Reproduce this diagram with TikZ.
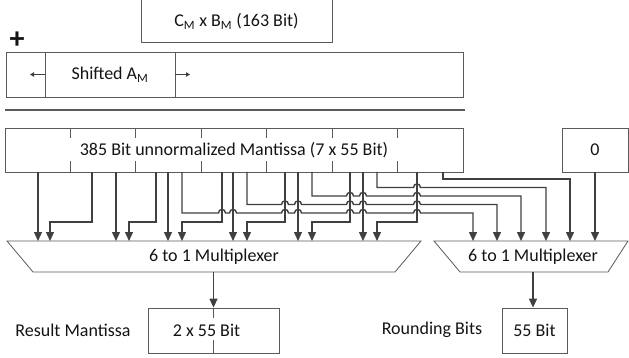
\documentclass[tikz,border=0pt]{standalone}
\usepackage{fontspec}
\setmainfont{Carlito}
\usetikzlibrary{arrows.meta}
\definecolor{boxc}{RGB}{90,90,90}
\definecolor{linec}{RGB}{64,64,64}
\definecolor{txtc}{RGB}{20,20,20}
\begin{document}
\begin{tikzpicture}[x=1pt,y=-1pt,
  every node/.style={font=\fontsize{18}{21}\selectfont, text=txtc, inner sep=0pt},
  box/.style={draw=boxc, line width=0.8pt},
  conn/.style={draw=linec, line width=1.4pt, -{Triangle[length=9pt,width=8pt]}},
  smallarrow/.style={draw=linec, line width=0.8pt, -{Triangle[length=4pt,width=4.5pt]}},
  tickline/.style={draw=boxc, line width=0.8pt}]

\useasboundingbox (0,0) rectangle (629,358);

% top operand
\draw[box] (141,-5) rectangle (332,42);
\node (cb) at (236.5,21.5) {C\textsubscript{M} x B\textsubscript{M} (163 Bit)};

% plus sign
\node[font=\fontsize{30}{30}\selectfont\bfseries] (plus) at (17,40) {+};

% shifted row
\node[box, minimum width=457pt, minimum height=45pt] (shrow) at (234.5,74.5) {};
\node[box, minimum width=130pt, minimum height=45pt] (sha) at (110,74.5) {Shifted A\textsubscript{M}};
\coordinate (lt) at (30,74.5);
\coordinate (rt) at (190,74.5);
\draw[smallarrow] (sha.west) -- (lt);
\draw[smallarrow] (sha.east) -- (rt);

% separator
\draw[draw=boxc, line width=2pt] (5,110) -- (465,110);

% mantissa
\node[box, minimum width=458pt, minimum height=44pt] (mant) at (234,150) {385 Bit unnormalized Mantissa (7 x 55 Bit)};
\foreach \x in {70,135,201,266,332,397} {
  \draw[tickline] (\x,128) -- (\x,138);
  \draw[tickline] (\x,161) -- (\x,172);
}
\node[box, minimum width=66pt, minimum height=44pt] (zero) at (595,150) {0};

% multiplexers
\draw[box] (7,241) -- (421,241) -- (395,272) -- (33,272) -- cycle;
\node (mux1) at (214,257) {6 to 1 Multiplexer};
\draw[box] (434,241) -- (628,241) -- (608,272) -- (460,272) -- cycle;
\node (mux2) at (533,257) {6 to 1 Multiplexer};

% straight inputs (first of each pair)
\foreach \i/\x in {0/38,1/116,2/168,3/233,4/298,5/363} {
  \coordinate (pa\i) at (\x,172);
  \coordinate (ma\i) at (\x,241);
  \draw[conn] (pa\i) -- (ma\i);
}
% second input of each pair
\foreach \i/\xs/\xd in {0/92/50,1/156/129,2/222/182,3/285/247,4/350/312,5/417/377} {
  \coordinate (pb\i) at (\xs,172);
  \coordinate (mb\i) at (\xd,241);
  \draw[conn] (pb\i) -- (\xs,222) -- (\xd,222) -- (mb\i);
}

% rounding inputs with hops
\coordinate (pc0) at (182,172); \coordinate (mc0) at (473,241);
\coordinate (pc1) at (247,172); \coordinate (mc1) at (497,241);
\coordinate (pc2) at (312,172); \coordinate (mc2) at (521,241);
\coordinate (pc3) at (377,172); \coordinate (mc3) at (546,241);
\coordinate (pc4) at (443,172); \coordinate (mc4) at (570,241);
\coordinate (mc5) at (595,241);

\draw[conn] (pc0) -- (182,213)
  \foreach \h in {222,233,285,298,350,363,417}{ -- (\h-3.5,213) .. controls (\h-3.5,208.3) and (\h+3.5,208.3) .. (\h+3.5,213)}
  -- (473,213) -- (mc0);
\draw[conn] (pc1) -- (247,204.5)
  \foreach \h in {285,298,350,363,417}{ -- (\h-3.5,204.5) .. controls (\h-3.5,199.8) and (\h+3.5,199.8) .. (\h+3.5,204.5)}
  -- (497,204.5) -- (mc1);
\draw[conn] (pc2) -- (312,196)
  \foreach \h in {350,363,417}{ -- (\h-3.5,196) .. controls (\h-3.5,191.3) and (\h+3.5,191.3) .. (\h+3.5,196)}
  -- (521,196) -- (mc2);
\draw[conn] (pc3) -- (377,187.5)
  -- (413.5,187.5) .. controls (413.5,182.8) and (420.5,182.8) .. (420.5,187.5)
  -- (546,187.5) -- (mc3);
\draw[conn] (pc4) -- (443,179) -- (570,179) -- (mc4);
\draw[conn] (zero.south) -- (mc5);

% outputs
\node[box, minimum width=131pt, minimum height=45pt] (res) at (213.5,330.5) {};
\node (restxt) at (206.5,330.5) {2 x 55 Bit};
\draw[tickline] (213.5,308) -- (213.5,318);
\draw[tickline] (213.5,340) -- (213.5,353);
\node (rm) at (73,330) {Result Mantissa};
\coordinate (m1out) at (213.5,272);
\draw[conn] (m1out) -- (res.north);

\node[box, minimum width=65pt, minimum height=45pt] (rnd) at (534.5,330.5) {55 Bit};
\node (rb) at (432,330) {Rounding Bits};
\coordinate (m2out) at (533,272);
\draw[conn] (m2out) -- (m2out |- rnd.north);
\end{tikzpicture}
\end{document}
